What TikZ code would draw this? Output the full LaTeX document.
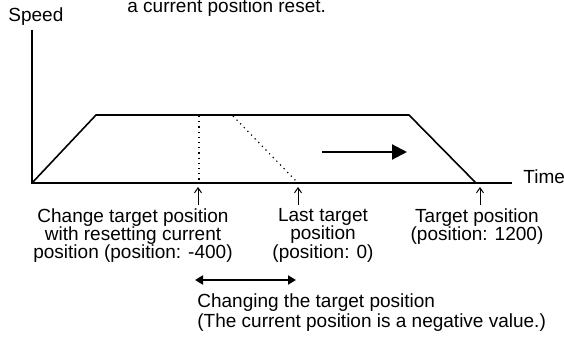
\documentclass[tikz,border=0pt]{standalone}
\usepackage{fontspec}
\setmainfont{Liberation Sans}
\usetikzlibrary{arrows.meta}
\begin{document}
\begin{tikzpicture}[x=0.5pt,y=-0.5pt,
  txt/.style={inner sep=0pt,font=\fontsize{9.5}{9.2}\selectfont},
  axis/.style={line width=1pt},
  prof/.style={line width=0.8pt},
  dotline/.style={dotted,line width=0.6pt},
  uparrow/.style={line width=0.5pt,-{Straight Barb[length=2.5pt,width=3.5pt]}},
  bigarrow/.style={line width=1pt,-{Triangle[length=7.5pt,width=7.5pt]}},
  dblarrow/.style={line width=0.9pt,{Triangle[length=4pt,width=4.5pt]}-{Triangle[length=4pt,width=4.5pt]}}]
\useasboundingbox (0,0) rectangle (564,337);
% top partial text
\node[txt,anchor=base west] (topnote) at (127,12) {a current position reset.};
% axes
\coordinate (O) at (32,183);
\coordinate (ytop) at (32,30);
\coordinate (xend) at (512,183);
\draw[axis] (ytop) -- (O) -- (xend);
\node[txt,anchor=base west] (speed) at (8,22) {Speed};
\node[txt,anchor=base west] (time) at (523,184) {Time};
% speed profile
\coordinate (p1) at (96,115);
\coordinate (p2) at (409,115);
\coordinate (p3) at (476,183);
\draw[prof] (O) -- (p1) -- (p2) -- (p3);
% dotted lines
\coordinate (d1a) at (199,116);
\coordinate (d1b) at (199,182);
\coordinate (d2a) at (233,116);
\coordinate (d2b) at (297,182);
\draw[dotline] (d1a) -- (d1b);
\draw[dotline] (d2a) -- (d2b);
% direction arrow
\coordinate (ba) at (322,152);
\coordinate (bb) at (407,152);
\draw[bigarrow] (ba) -- (bb);
% up arrows
\coordinate (u1a) at (198,205); \coordinate (u1b) at (198,187);
\coordinate (u2a) at (298,205); \coordinate (u2b) at (298,187);
\coordinate (u3a) at (480,205); \coordinate (u3b) at (480,187);
\draw[uparrow] (u1a) -- (u1b);
\draw[uparrow] (u2a) -- (u2b);
\draw[uparrow] (u3a) -- (u3b);
% labels
\node[txt,anchor=north,align=center] (lab1) at (133,208) {Change target position\\with resetting current\\position (position: -400)};
\node[txt,anchor=north,align=center] (lab2) at (323,208) {Last target\\position\\(position: 0)};
\node[txt,anchor=north,align=center] (lab3) at (477,208) {Target position\\(position: 1200)};
% changing range
\coordinate (ra) at (195,280);
\coordinate (rb) at (296,280);
\draw[dblarrow] (ra) -- (rb);
\node[txt,anchor=north west,align=left,font=\fontsize{9.5}{10.3}\selectfont] (lab4) at (197,293) {Changing the target position\\(The current position is a negative value.)};
\end{tikzpicture}
\end{document}
